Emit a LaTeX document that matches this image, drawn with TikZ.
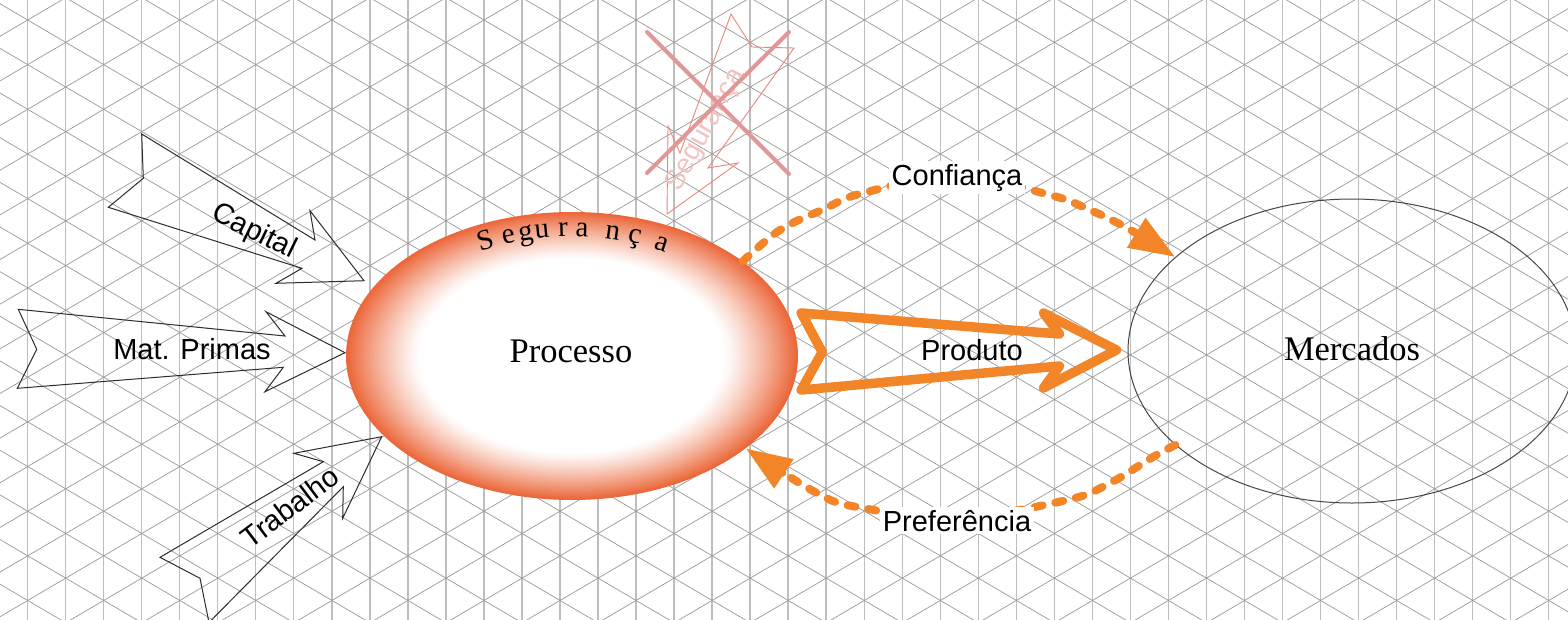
\documentclass[tikz,border=0pt]{standalone}
\usepackage{fontspec}
\setmainfont{Liberation Serif}
\newfontfamily\arialf{Liberation Sans}
\usetikzlibrary{shapes.geometric,arrows.meta,calc}
\definecolor{gridv}{RGB}{190,190,190}
\definecolor{gridd}{RGB}{158,158,158}
\definecolor{org}{RGB}{241,133,40}
\definecolor{procedge}{RGB}{235,102,56}
\definecolor{pinkx}{RGB}{226,150,150}
\definecolor{pinkl}{RGB}{232,135,125}
\definecolor{pinkt}{RGB}{242,195,195}
\definecolor{inkgray}{RGB}{45,45,45}
\definecolor{mercline}{RGB}{70,70,70}
\begin{document}
\begin{tikzpicture}[x=1pt,y=-1pt,
  lbl/.style={font={\arialf\fontsize{29pt}{31pt}\selectfont},text=black,inner sep=0pt},
  serifl/.style={font={\fontsize{34.5pt}{36pt}\selectfont},text=black,inner sep=0pt,anchor=base},
  segl/.style={font={\fontsize{29pt}{31pt}\selectfont},text=black,inner sep=0pt,anchor=base},
  ribbon/.style={draw=inkgray,line width=1pt,line join=miter},
  dashline/.style={org,line width=8pt,line cap=round,dash pattern=on 8pt off 13pt},
  bigtip/.style={-{Triangle[length=46pt,width=33pt]}}]
\useasboundingbox (0,0) rectangle (1568,619);
\clip (0,0) rectangle (1568,619);
\fill[white] (0,0) rectangle (1568,619);
% isometric grid
\foreach \k in {0,...,40} \draw[gridv,line width=1.3pt] ({27.7+38.02*\k},-5) -- ({27.7+38.02*\k},625);
\foreach \n in {-22,...,15} \draw[gridd,line width=0.75pt] (-20,{20+44.65*\n-0.5871*47.7}) -- (1600,{20+44.65*\n+0.5871*1572.3});
\foreach \n in {-2,...,36} \draw[gridd,line width=0.75pt] (-20,{20+44.65*\n+0.5871*47.7}) -- (1600,{20+44.65*\n-0.5871*1572.3});
% crossed-out arrow
\draw[pinkl,line width=0.9pt,line join=miter] (731,14) -- (752,47) -- (794,48) -- (708,168) -- (738,163) -- (667,214) -- (668,126) -- (680,153) -- cycle;
\node[font={\arialf\fontsize{28pt}{30pt}\selectfont},text=pinkt,rotate=61,inner sep=0pt] (pinkT) at (706,130) {Segurança};
\draw[pinkx,line width=4pt,line cap=round] (647,32) -- (789,174);
\draw[pinkx,line width=4pt,line cap=round] (789,32) -- (647,173);
% main nodes
\node[ellipse,minimum width=452pt,minimum height=288pt,inner sep=0pt,fill=procedge] (proc) at (572,356) {};
\foreach \i in {1,...,42} {
  \pgfmathsetmacro\s{1-0.0076*\i}
  \pgfmathsetmacro\p{100*((\s-0.675)/0.325)^1.2}
  \fill[procedge!\p!white] (proc.center) ellipse [x radius={226pt*\s}, y radius={144pt*\s}];
}
\fill[white] (proc.center) ellipse [x radius={226pt*0.675}, y radius={144pt*0.675}];
\node[ellipse,draw=mercline,line width=1pt,minimum width=448pt,minimum height=304pt,inner sep=0pt] (merc) at (1352,351) {};
\node[serifl] (procT) at (571,362) {Processo};
\node[serifl] (mercT) at (1352,360) {Mercados};
% Seguranca on the ellipse
\node[segl,rotate=17.2] (s1) at (488.3,249) {S};
\node[segl,rotate=12.3] (s2) at (510,243.2) {e};
\node[segl,rotate=8.8] (s3) at (526.7,240) {g};
\node[segl,rotate=5.6] (s4) at (542.7,238) {u};
\node[segl,rotate=1.7] (s5) at (563.3,236.6) {r};
\node[segl,rotate=-1.8] (s6) at (581.7,236.7) {a};
\node[segl,rotate=-7.7] (s7) at (611.7,239.2) {n};
\node[segl,rotate=-12.1] (s8) at (633.3,243) {ç};
\node[segl,rotate=-18.3] (s9) at (660,250.2) {a};
% input arrows
\draw[ribbon] (141.7,134) -- (143.3,178.3) -- (108.3,207.3) -- (302,268.3) -- (276,283.3) -- (364,280.7) -- (310,210.7) -- (315,240) -- cycle;
\draw[ribbon] (18.3,309.3) -- (36.7,349.3) -- (17.3,388.3) -- (283.3,367.3) -- (265,391.7) -- (345,352.7) -- (266,311.7) -- (285,336) -- cycle;
\draw[ribbon] (381.7,436.7) -- (294,453.3) -- (323.3,461.7) -- (160,557.3) -- (200,578.3) -- (209,622.5) -- (343.3,486.7) -- (342.7,518.3) -- cycle;
\node[lbl,rotate=-26] (capT) at (254,232) {Capital};
\node[lbl,anchor=base] (matT) at (192,359) {Mat. Primas};
\node[lbl,rotate=37] (trabT) at (290,507) {Trabalho};
% Produto arrow
\draw[org,line width=9.5pt,line join=round] ($(proc.east)+(3,-43)$) -- ($(proc.east)+(24,-4)$) -- ($(proc.east)+(3,34)$) -- ($(merc.west)+(-68,15)$) -- ($(merc.west)+(-84,37)$) -- ($(merc.west)+(-11,-1)$) -- ($(merc.west)+(-84,-38)$) -- ($(merc.west)+(-68,-17)$) -- cycle;
\node[lbl,anchor=base] (prodT) at (972,360) {Produto};
% feedback arrows
\draw[dashline,bigtip] plot[smooth,tension=0.6] coordinates {(proc.29) (780,230) (822,210) (863,193) (957,176) (1050,195) (1090,210) (1127,228) (merc.152)};
\draw[dashline,bigtip] plot[smooth,tension=0.6] coordinates {(merc.208) (1153,457) (1110,483) (1067,500) (957,518) (857,507) (815,492) (proc.332)};
\node[lbl,anchor=base,fill=white,inner sep=3pt] (confT) at (957,185) {Confiança};
\node[lbl,anchor=base,fill=white,inner sep=3pt] (prefT) at (957,531) {Preferência};
\end{tikzpicture}
\end{document}
